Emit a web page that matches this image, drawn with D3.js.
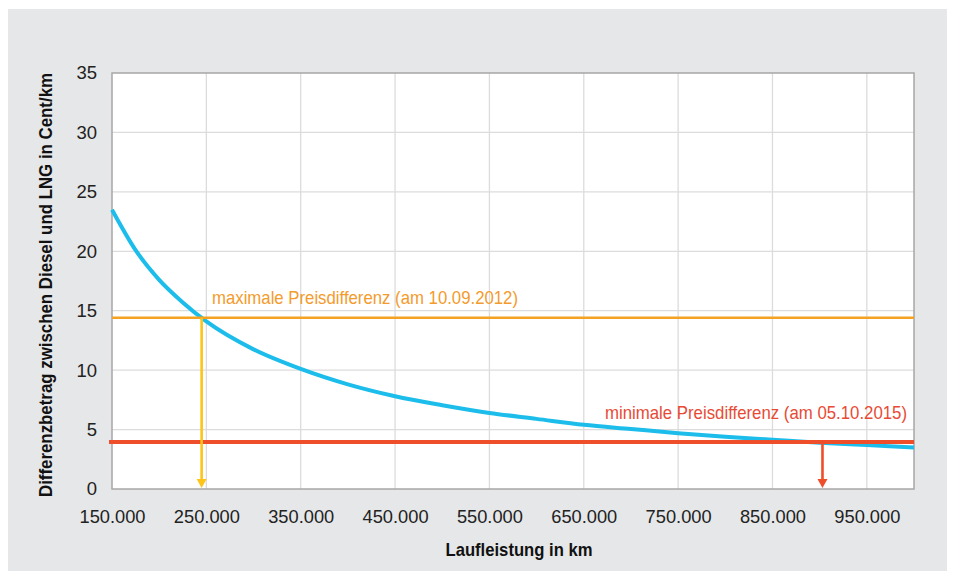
<!DOCTYPE html>
<html><head><meta charset="utf-8">
<script src="https://cdn.jsdelivr.net/npm/d3@7"></script>
<style>
html,body{margin:0;padding:0;background:#fff;}
text{font-family:"Liberation Sans",Arial,sans-serif;}
</style></head>
<body>
<svg id="c" width="954" height="571"></svg>
<script>
// Data
const mileage = [150000,175000,200000,225000,250000,300000,350000,400000,450000,500000,550000,600000,650000,700000,750000,800000,850000,900000,950000,1000000];
const priceDiff = [23.5,20.1,17.6,15.7,14.1,11.75,10.1,8.8,7.8,7.05,6.4,5.9,5.4,5.05,4.7,4.4,4.15,3.9,3.7,3.5];
const xTicks = [150000,250000,350000,450000,550000,650000,750000,850000,950000];
const yTicks = [0,5,10,15,20,25,30,35];
const maxDiff = 14.4, maxBreakEven = 245000;
const minDiff = 3.95, minBreakEven = 903000;
const maxLabel = "maximale Preisdifferenz (am 10.09.2012)";
const minLabel = "minimale Preisdifferenz (am 05.10.2015)";
const xTitle = "Laufleistung in km";
const yTitle = "Differenzbetrag zwischen Diesel und LNG in Cent/km";

const svg = d3.select("#c");
svg.append("rect").attr("x",8).attr("y",9).attr("width",939).attr("height",562).attr("fill","#e6e7e8");

const L=112, R=914, T=73, B=489;
const x = d3.scaleLinear().domain([150000,1000000]).range([L,R]);
const y = d3.scaleLinear().domain([0,35]).range([B,T]);
const fmt = v => d3.format(",")(v).replace(/,/g,".");

svg.append("rect").attr("x",L).attr("y",T).attr("width",R-L).attr("height",B-T).attr("fill","#fff");

// grid
const g = svg.append("g");
g.selectAll(".vx").data(xTicks.slice(1)).join("line")
 .attr("x1",d=>x(d)).attr("x2",d=>x(d)).attr("y1",T).attr("y2",B)
 .attr("stroke","#dcdcdc").attr("stroke-width",1.3);
g.selectAll(".hy").data(yTicks.slice(1,-1)).join("line")
 .attr("x1",L).attr("x2",R).attr("y1",d=>y(d)).attr("y2",d=>y(d))
 .attr("stroke","#dcdcdc").attr("stroke-width",1.3);

// border
svg.append("rect").attr("x",L).attr("y",T).attr("width",R-L).attr("height",B-T)
 .attr("fill","none").attr("stroke","#a7a7a7").attr("stroke-width",1.5);

// axes
const xa = svg.append("g").attr("transform",`translate(0,${B})`)
 .call(d3.axisBottom(x).tickValues(xTicks).tickFormat(fmt).tickSize(0).tickPadding(21));
const ya = svg.append("g").attr("transform",`translate(${L},0)`)
 .call(d3.axisLeft(y).tickValues(yTicks).tickSize(0).tickPadding(15));
[xa,ya].forEach(a=>{a.select(".domain").remove();
 a.selectAll("text").attr("font-family","'Liberation Sans',Arial,sans-serif").attr("font-size",18.5).attr("fill","#222");});
xa.selectAll("text").attr("textLength",66).attr("lengthAdjust","spacingAndGlyphs");

// curve
svg.append("path").datum(mileage.map((m,i)=>[m,priceDiff[i]]))
 .attr("d",d3.line().x(d=>x(d[0])).y(d=>y(d[1])).curve(d3.curveMonotoneX))
 .attr("fill","none").attr("stroke","#1cbdeb").attr("stroke-width",4);

// max line
svg.append("line").attr("x1",L).attr("x2",R).attr("y1",y(maxDiff)).attr("y2",y(maxDiff))
 .attr("stroke","#f6a221").attr("stroke-width",2.5);
// min line
svg.append("line").attr("x1",L-3).attr("x2",R).attr("y1",y(minDiff)).attr("y2",y(minDiff))
 .attr("stroke","#ef4e2a").attr("stroke-width",4);

function arrow(xv, yv, col){
  const px=x(xv);
  svg.append("line").attr("x1",px).attr("x2",px).attr("y1",y(yv)).attr("y2",B-8)
   .attr("stroke",col).attr("stroke-width",2.6);
  svg.append("path").attr("d",`M${px-5},${B-10}L${px+5},${B-10}L${px},${B-1}Z`).attr("fill",col);
}
arrow(maxBreakEven,maxDiff,"#fec418");
arrow(minBreakEven,minDiff,"#ef4e2a");

// labels
svg.append("text").attr("x",212).attr("y",y(maxDiff)-14).text(maxLabel)
 .attr("font-family","'Liberation Sans Narrow','Liberation Sans',Arial,sans-serif")
 .attr("font-size",19).attr("fill","#f39b2c")
 .attr("textLength",306).attr("lengthAdjust","spacingAndGlyphs");
svg.append("text").attr("x",907).attr("y",y(minDiff)-23).attr("text-anchor","end").text(minLabel)
 .attr("font-family","'Liberation Sans Narrow','Liberation Sans',Arial,sans-serif")
 .attr("font-size",19).attr("fill","#e84a35")
 .attr("textLength",302).attr("lengthAdjust","spacingAndGlyphs");

// titles
svg.append("text").attr("x",(L+R)/2+6).attr("y",556).attr("text-anchor","middle").text(xTitle)
 .attr("font-family","'Liberation Sans Narrow','Liberation Sans',Arial,sans-serif")
 .attr("font-weight","bold").attr("font-size",18.5).attr("fill","#111")
 .attr("textLength",147).attr("lengthAdjust","spacingAndGlyphs");
svg.append("text").attr("transform","translate(52,285) rotate(-90)").attr("text-anchor","middle").text(yTitle)
 .attr("font-family","'Liberation Sans Narrow','Liberation Sans',Arial,sans-serif")
 .attr("font-weight","bold").attr("font-size",18.5).attr("fill","#111")
 .attr("textLength",424).attr("lengthAdjust","spacingAndGlyphs");
</script>
</body></html>
